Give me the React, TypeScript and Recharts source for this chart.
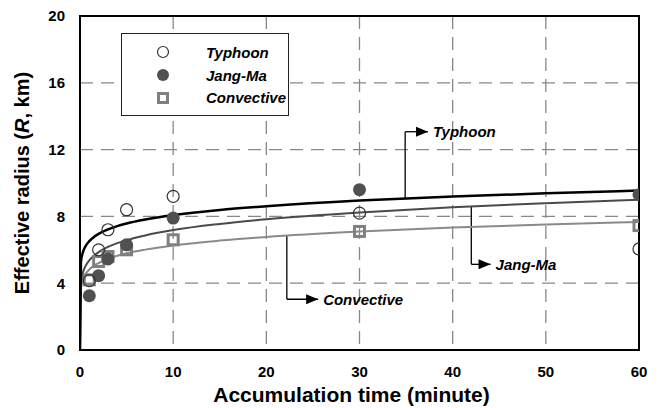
import React from 'react';
import { ComposedChart, Line, Scatter, XAxis, YAxis, CartesianGrid, ReferenceArea, ReferenceLine, ReferenceDot, Legend } from 'recharts';

const FONT = '"Liberation Sans", Arial, sans-serif';

const xTicks = [0, 10, 20, 30, 40, 50, 60];
const yTicks = [0, 4, 8, 12, 16, 20];

// observed points
const obsTime = [1, 2, 3, 5, 10, 30, 60];
const typhoonObs = [4.15, 6.0, 7.2, 8.4, 9.2, 8.2, 6.05];
const jangMaObs = [3.25, 4.45, 5.45, 6.3, 7.9, 9.6, 9.3];
const convectiveObs = [4.2, 5.3, 5.6, 6.0, 6.6, 7.1, 7.45];

// fitted curves
const fitTime = [0, 0.1, 0.3, 0.6, 1, 1.5, 2, 3, 4, 5, 7, 10, 15, 20, 30, 40, 50, 60];
const typhoonFit = [0, 5.26, 5.83, 6.22, 6.52, 6.77, 6.95, 7.22, 7.42, 7.57, 7.81, 8.08, 8.39, 8.61, 8.95, 9.19, 9.38, 9.55];
const jangMaFit = [0, 4.02, 4.61, 5.04, 5.37, 5.65, 5.86, 6.17, 6.4, 6.58, 6.86, 7.18, 7.55, 7.83, 8.24, 8.55, 8.79, 9.0];
const convectiveFit = [0, 3.71, 4.21, 4.55, 4.82, 5.05, 5.21, 5.46, 5.64, 5.79, 6.01, 6.26, 6.55, 6.77, 7.09, 7.33, 7.51, 7.67];

// callouts: vertical leader at x, from the curve to the label level, arrow tip
const callouts = [
  { name: 'Typhoon', x: 34.9, from: 9.07, to: 13.07, tip: 37.35 },
  { name: 'Jang-Ma', x: 42, from: 8.6, to: 5.13, tip: 44.07 },
  { name: 'Convective', x: 22.2, from: 6.85, to: 3.04, tip: 25.56 },
];

const toPoints = (xs: number[], ys: number[]) => xs.map((x, i) => ({ x, y: ys[i] }));

const OpenCircle = (props: any) => (
  <circle cx={props.cx} cy={props.cy} r={6} fill="none" stroke="#333" strokeWidth={1.2} />
);
const FilledCircle = (props: any) => (
  <circle cx={props.cx} cy={props.cy} r={6.5} fill="#505050" />
);
const OpenSquare = (props: any) => (
  <rect x={props.cx - 5} y={props.cy - 5} width={10} height={10} fill="none" stroke="#808080" strokeWidth={3} />
);

const legendItems = [
  { name: 'Typhoon', icon: <circle cx={8} cy={8} r={5.5} fill="#fff" stroke="#333" strokeWidth={1.2} /> },
  { name: 'Jang-Ma', icon: <circle cx={8} cy={8} r={6} fill="#505050" /> },
  { name: 'Convective', icon: <rect x={3.5} y={3.5} width={9} height={9} fill="#fff" stroke="#808080" strokeWidth={3} /> },
];

const renderLegend = () => (
  <div style={{ width: 168, height: 83, border: '1.5px solid #222', background: '#fff', boxSizing: 'border-box', paddingTop: 7 }}>
    {legendItems.map((it) => (
      <div key={it.name} style={{ display: 'flex', alignItems: 'center', height: 22.7 }}>
        <svg width={16} height={16} style={{ marginLeft: 33 }}>{it.icon}</svg>
        <span style={{ marginLeft: 35, fontFamily: FONT, fontWeight: 700, fontStyle: 'italic', fontSize: 15, color: '#000' }}>{it.name}</span>
      </div>
    ))}
  </div>
);

const yTitle = (props: any) => {
  const vb = props.viewBox || { y: 16, height: 334 };
  const cy = vb.y + vb.height / 2;
  return (
    <text x={22} y={cy} transform={`rotate(-90, 22, ${cy})`} textAnchor="middle" dominantBaseline="central"
      fontFamily={FONT} fontWeight={700} fontSize={20} fill="#000">
      Effective radius (<tspan fontStyle="italic">R</tspan>, km)
    </text>
  );
};

export default function App() {
  const tick = { fontFamily: FONT, fontWeight: 700, fontSize: 15, fill: '#000' };
  return (
    <div style={{ position: 'absolute', left: 0, top: 0, width: 664, height: 408, background: '#fff' }}>
      <ComposedChart width={664} height={408} margin={{ top: 16, right: 25, left: 0, bottom: 0 }}>
        <CartesianGrid stroke="#888" strokeWidth={1.3} strokeDasharray="13 8" />
        <XAxis type="number" dataKey="x" domain={[0, 60]} ticks={xTicks} allowDataOverflow
          height={58} tick={tick} tickLine={false} axisLine={false} tickSize={0} tickMargin={16}
          label={{ value: 'Accumulation time (minute)', position: 'insideBottom', offset: 6, dx: -8, fontFamily: FONT, fontWeight: 700, fontSize: 21, fill: '#000' }} />
        <YAxis type="number" dataKey="y" domain={[0, 20]} ticks={yTicks} allowDataOverflow
          width={80} tick={tick} tickLine={false} axisLine={false} tickSize={0} tickMargin={15}
          label={{ content: yTitle }} />
        <ReferenceArea x1={0} x2={60} y1={0} y2={20} fill="none" fillOpacity={0} stroke="#000" strokeWidth={2} />

        {callouts.map((c) => (
          <React.Fragment key={c.name}>
            <ReferenceLine segment={[{ x: c.x, y: c.from }, { x: c.x, y: c.to }]} stroke="#000" strokeWidth={1.3} />
            <ReferenceLine segment={[{ x: c.x, y: c.to }, { x: c.tip, y: c.to }]} stroke="#000" strokeWidth={1.3} />
            <ReferenceDot x={c.tip} y={c.to} r={0}
              shape={(p: any) => (
                <g>
                  <polygon points={`${p.cx - 12},${p.cy - 5} ${p.cx},${p.cy} ${p.cx - 12},${p.cy + 5}`} fill="#000" />
                  <text x={p.cx + 5} y={p.cy + 5.5} fontFamily={FONT} fontWeight={700} fontStyle="italic" fontSize={15} fill="#000">{c.name}</text>
                </g>
              )} />
          </React.Fragment>
        ))}

        <Line data={toPoints(fitTime, convectiveFit)} dataKey="y" type="monotone" stroke="#8a8a8a" strokeWidth={2} dot={false} isAnimationActive={false} legendType="none" />
        <Line data={toPoints(fitTime, jangMaFit)} dataKey="y" type="monotone" stroke="#4a4a4a" strokeWidth={2} dot={false} isAnimationActive={false} legendType="none" />
        <Line data={toPoints(fitTime, typhoonFit)} dataKey="y" type="monotone" stroke="#000" strokeWidth={2.5} dot={false} isAnimationActive={false} legendType="none" />

        <Scatter name="Convective" data={toPoints(obsTime, convectiveObs)} shape={OpenSquare} isAnimationActive={false} />
        <Scatter name="Jang-Ma" data={toPoints(obsTime, jangMaObs)} shape={FilledCircle} isAnimationActive={false} />
        <Scatter name="Typhoon" data={toPoints(obsTime, typhoonObs)} shape={OpenCircle} isAnimationActive={false} />

        <Legend layout="vertical" align="center" verticalAlign="middle" content={renderLegend}
          wrapperStyle={{ left: 121, top: 33, width: 168, height: 83 }} />
      </ComposedChart>
    </div>
  );
}
